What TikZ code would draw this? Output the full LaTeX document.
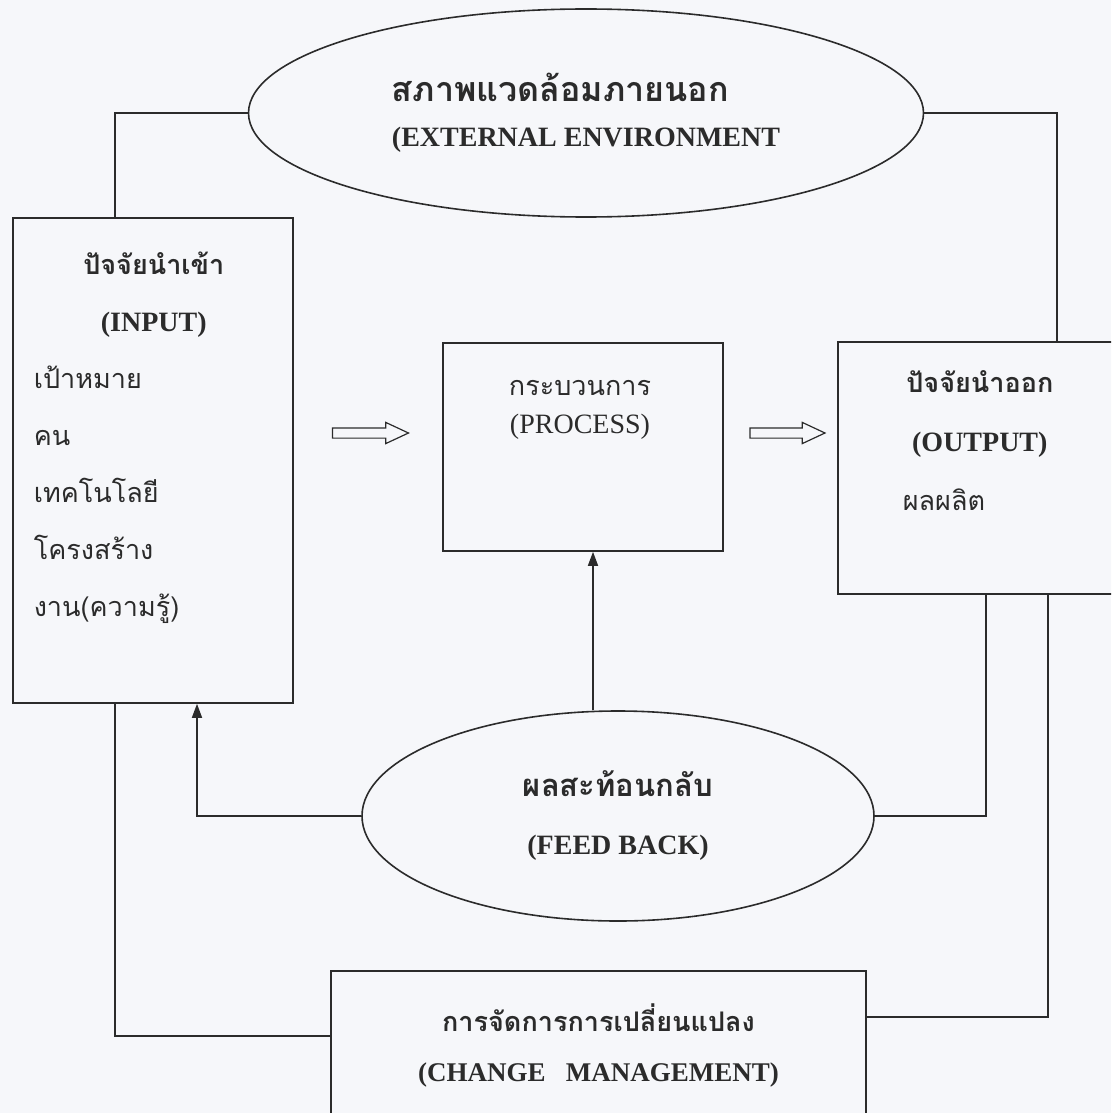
\documentclass[tikz,border=0pt]{standalone}
\usepackage{fontspec}
\setmainfont{Liberation Serif}
\newfontfamily\thai[Script=Thai]{Loma}
\usetikzlibrary{shapes.geometric,shapes.arrows,arrows.meta}
\definecolor{ink}{HTML}{2B2B2B}
\definecolor{paper}{HTML}{F6F7FA}

\begin{document}
\begin{tikzpicture}[x=1pt, y=-1pt, line width=1.6pt,
  every node/.style={text=ink, inner sep=0pt},
  box/.style={draw=ink, fill=paper, rectangle},
  oval/.style={draw=ink, fill=paper, ellipse, align=center},
  hollow/.style={draw=ink, fill=paper, line width=1.2pt, single arrow, single arrow head extend=5.5pt, single arrow tip angle=50, inner sep=4.5pt},
  link/.style={draw=ink},
  tip/.style={link, -{Triangle[length=14pt,width=10pt]}}]
  \path[use as bounding box, clip] (0,0) rectangle (1111,1113);
  \fill[paper] (0,0) rectangle (1111,1113);

  \node (env) at (586,113) [oval, minimum width=675pt, minimum height=208pt, align=left, font=\fontsize{28pt}{45pt}\selectfont\bfseries] {{\thai\fontsize{34pt}{45pt}\selectfont สภาพแวดล้อมภายนอก}\\(EXTERNAL ENVIRONMENT};

  \node (inBox) at (153,460.5) [box, minimum width=280pt, minimum height=485pt] {};
  \node (inTxt) at (33,616) [anchor=base west, align=left, font=\fontsize{27pt}{57pt}\selectfont] {\makebox[240pt]{\thai\bfseries ปัจจัยนำเข้า}\\ \makebox[240pt]{\fontsize{28pt}{57pt}\selectfont\bfseries (INPUT)}\\ {\thai เป้าหมาย}\\ {\thai คน}\\ {\thai เทคโนโลยี}\\ {\thai โครงสร้าง}\\ {\thai งาน(ความรู้)}};

  \node (procBox) at (583,447) [box, minimum width=280pt, minimum height=208pt] {};
  \node (procTxt) at (580,433) [anchor=base, align=center, font=\fontsize{28pt}{38pt}\selectfont] {{\thai\fontsize{27pt}{38pt}\selectfont กระบวนการ}\\(PROCESS)};

  \node (outBox) at (979,468) [box, minimum width=282pt, minimum height=252pt] {};
  \node (outTxt) at (902,510) [anchor=base west, align=left, font=\fontsize{27pt}{59pt}\selectfont] {\makebox[154pt]{\thai\bfseries ปัจจัยนำออก}\\ \makebox[154pt]{\fontsize{28pt}{59pt}\selectfont\bfseries (OUTPUT)}\\ {\thai ผลผลิต}};

  \node (arrIn) at (365,433) [hollow, minimum height=76pt] {};
  \node (arrOut) at (782,433) [hollow, minimum height=75pt] {};

  \node (fb) at (618,816) [oval, minimum width=512pt, minimum height=210pt, font=\fontsize{28pt}{58pt}\selectfont\bfseries] {{\thai\fontsize{31pt}{58pt}\selectfont ผลสะท้อนกลับ}\\(FEED BACK)};

  \node (chg) at (598.5,1045) [box, minimum width=535pt, minimum height=148pt, align=center, font=\fontsize{27pt}{50pt}\selectfont\bfseries] {{\thai การจัดการการเปลี่ยนแปลง}\\(CHANGE\ \ \ MANAGEMENT)};

  \draw[link] (env.west) -| ([xshift=-38pt]inBox.north);
  \draw[link] (env.east) -| ([xshift=78pt]outBox.north);
  \draw[tip] ([xshift=-25pt]fb.north) -- ([xshift=-25pt]fb.north |- procBox.south);
  \draw[tip] (fb.west) -| ([xshift=44pt]inBox.south);
  \draw[link] ([xshift=7pt]outBox.south) |- (fb.east);
  \draw[link] ([xshift=-38pt]inBox.south) |- ([yshift=9pt]chg.west);
  \draw[link] ([xshift=69pt]outBox.south) |- ([yshift=28pt]chg.east);
\end{tikzpicture}
\end{document}
